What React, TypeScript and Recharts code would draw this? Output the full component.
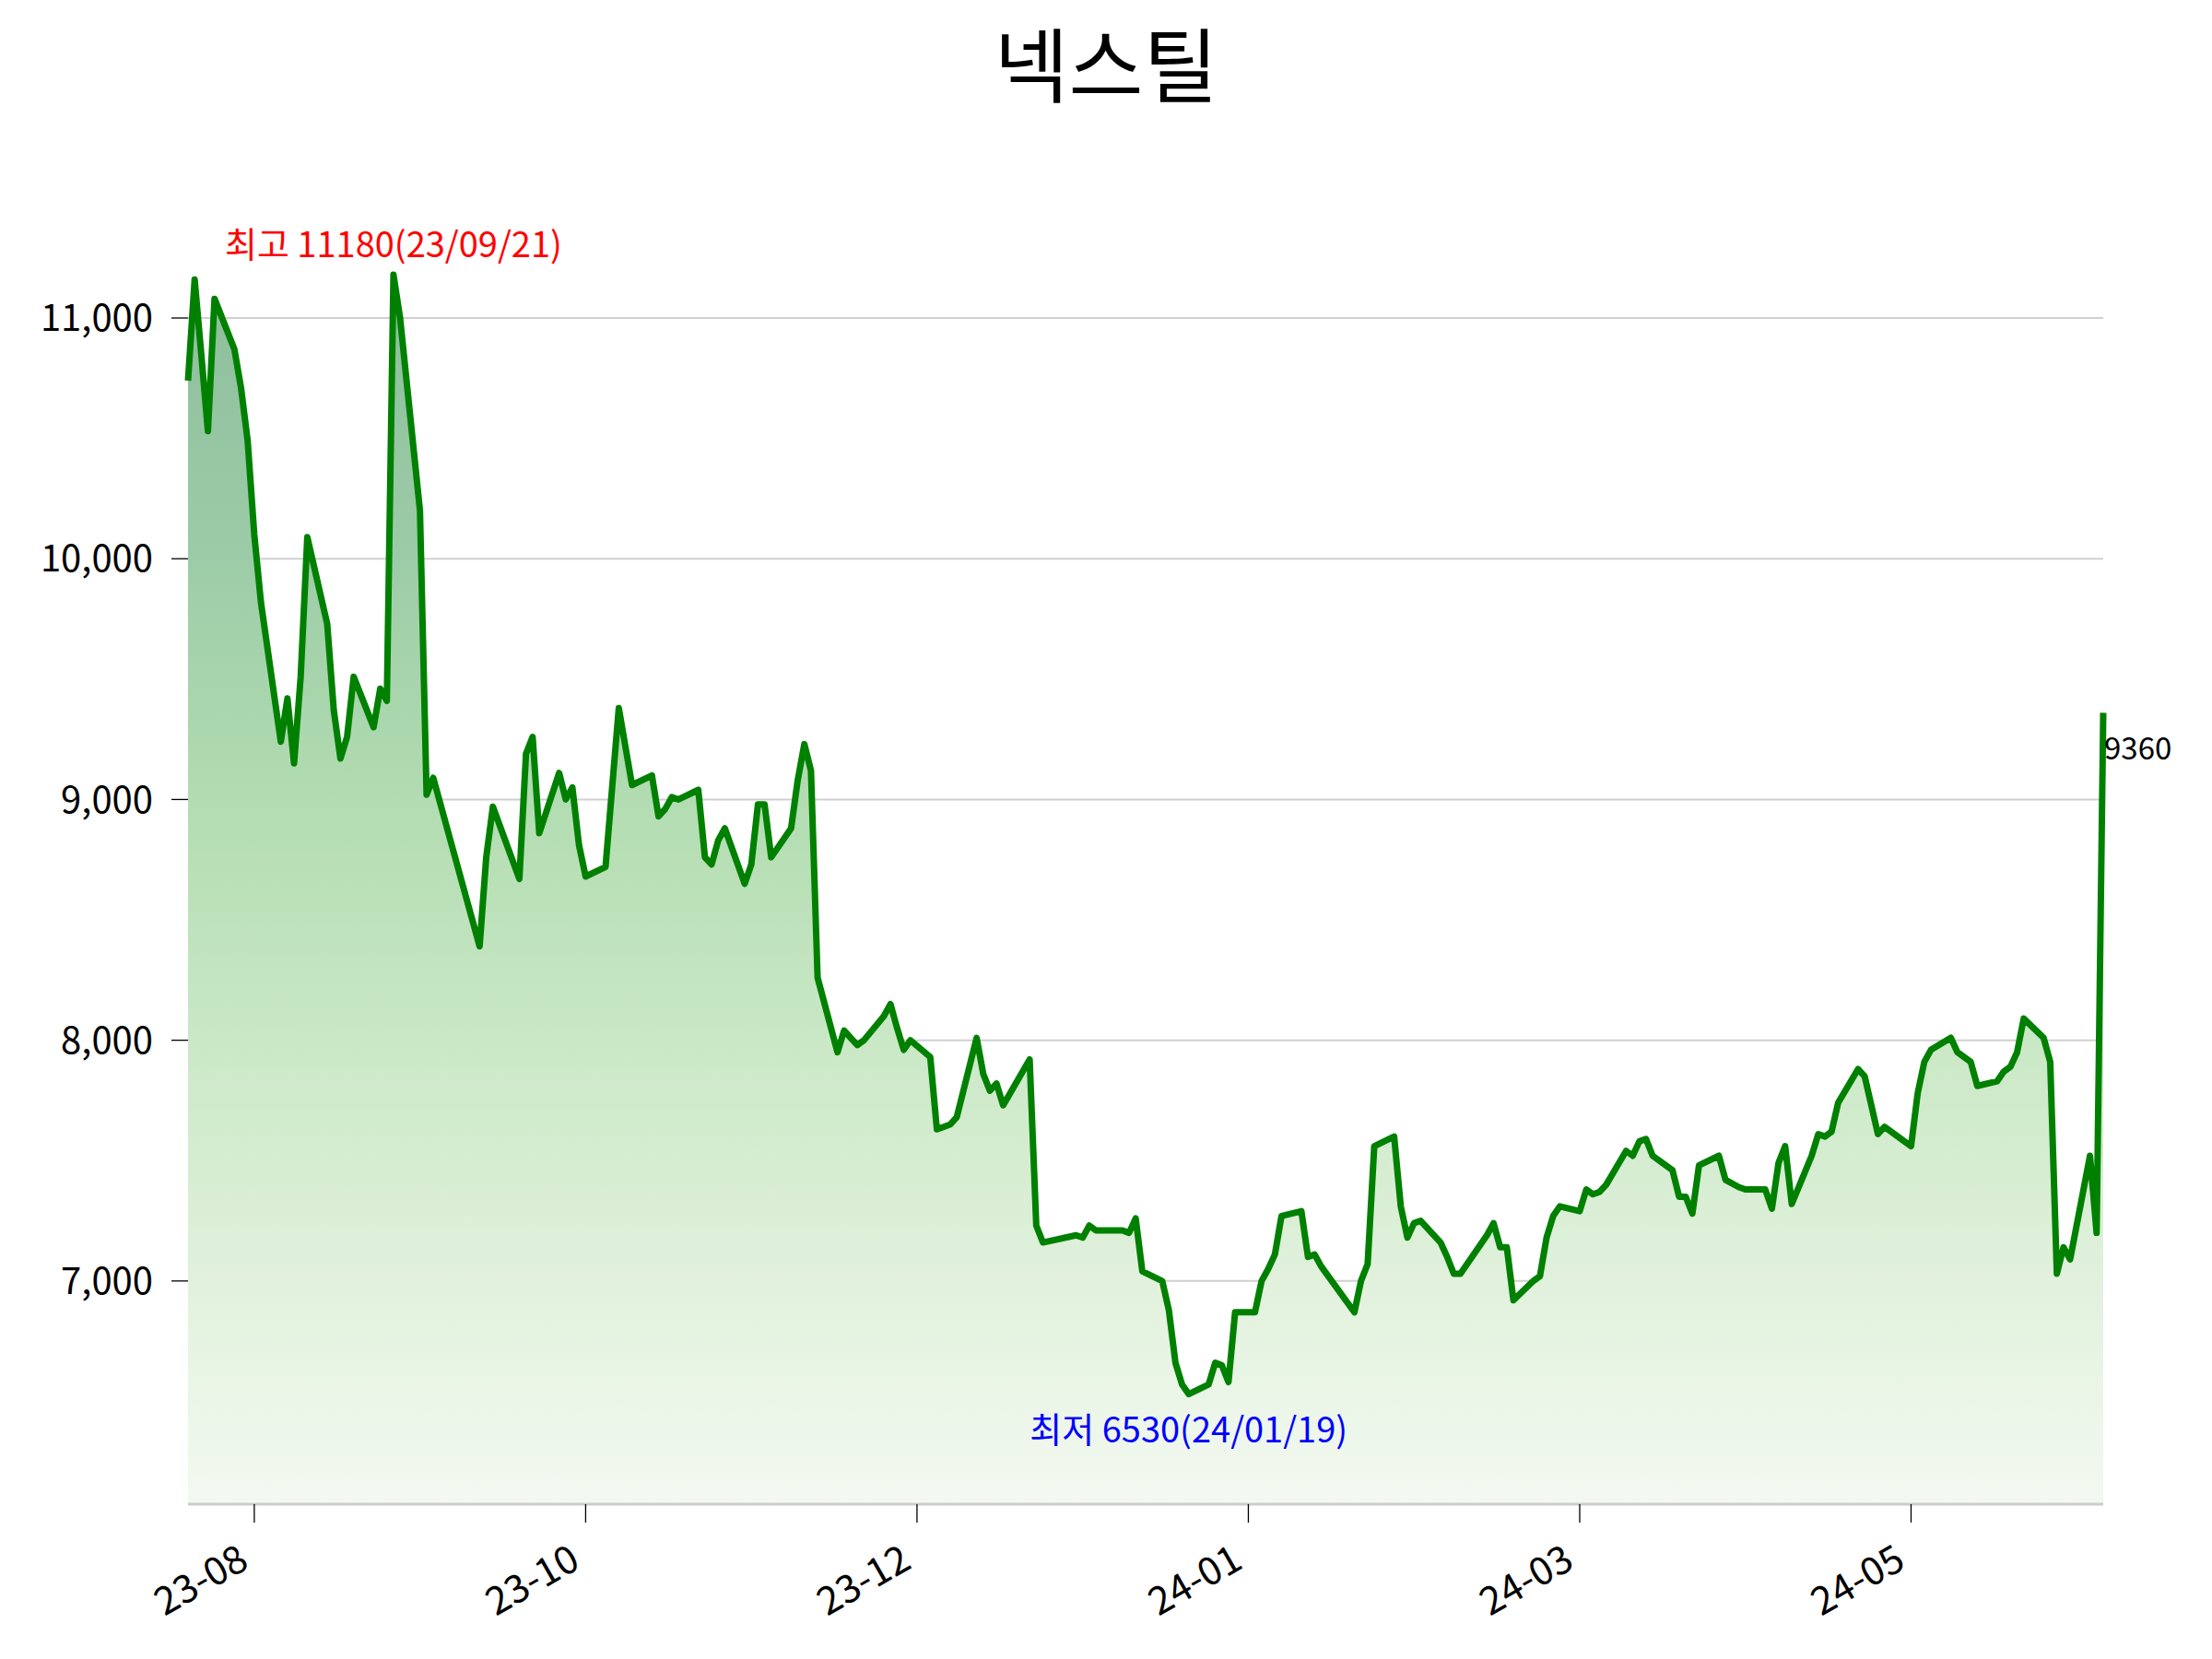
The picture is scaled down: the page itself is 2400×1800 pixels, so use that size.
import { ComposedChart, Area, Line, XAxis, YAxis, CartesianGrid, LabelList } from "recharts";

const FONT = "'Noto Sans CJK KR', 'Noto Sans', sans-serif";

const title = "넥스틸";

// trading days per month (KRX calendar), closes
const tradingDays: [string, number[]][] = [
  ["2023-08", [21, 22, 23, 24, 25, 28, 29, 30, 31]],
  ["2023-09", [1, 4, 5, 6, 7, 8, 11, 12, 13, 14, 15, 18, 19, 20, 21, 22, 25, 26, 27]],
  ["2023-10", [4, 5, 6, 10, 11, 12, 13, 16, 17, 18, 19, 20, 23, 24, 25, 26, 27, 30, 31]],
  ["2023-11", [1, 2, 3, 6, 7, 8, 9, 10, 13, 14, 15, 16, 17, 20, 21, 22, 23, 24, 27, 28, 29, 30]],
  ["2023-12", [1, 4, 5, 6, 7, 8, 11, 12, 13, 14, 15, 18, 19, 20, 21, 22, 26, 27, 28]],
  ["2024-01", [2, 3, 4, 5, 8, 9, 10, 11, 12, 15, 16, 17, 18, 19, 22, 23, 24, 25, 26, 29, 30, 31]],
  ["2024-02", [1, 2, 5, 6, 7, 8, 13, 14, 15, 16, 19, 20, 21, 22, 23, 26, 27, 28, 29]],
  ["2024-03", [4, 5, 6, 7, 8, 11, 12, 13, 14, 15, 18, 19, 20, 21, 22, 25, 26, 27, 28, 29]],
  ["2024-04", [1, 2, 3, 4, 5, 8, 9, 11, 12, 15, 16, 17, 18, 19, 22, 23, 24, 25, 26, 29, 30]],
  ["2024-05", [2, 3, 7, 8, 9, 10, 13, 14, 16, 17, 20, 21, 22, 23, 24, 27, 28, 29, 30, 31]],
  ["2024-06", [3, 4, 5]],
];

const closes: number[][] = [
  [10740, 11160, 10850, 10530, 11080, 10870, 10710, 10490, 10100],
  [9820, 9240, 9420, 9150, 9510, 10090, 9730, 9370, 9170, 9260, 9510, 9300, 9460, 9410, 11180, 11000, 10200, 9020, 9090],
  [8390, 8760, 8970, 8670, 9190, 9260, 8860, 9110, 9000, 9050, 8810, 8680, 8720, 9050, 9380, 9220, 9060, 9100, 8930],
  [8960, 9010, 9000, 9040, 8760, 8730, 8830, 8880, 8650, 8730, 8980, 8980, 8760, 8880, 9080, 9230, 9120, 8260, 7950, 8040, 8010, 7980],
  [8000, 8100, 8150, 8050, 7960, 8000, 7930, 7630, 7640, 7650, 7680, 8010, 7860, 7790, 7820, 7730, 7920, 7230, 7160],
  [7190, 7180, 7230, 7210, 7210, 7210, 7200, 7260, 7040, 7000, 6880, 6660, 6570, 6530, 6570, 6660, 6650, 6580, 6870, 6870, 7000, 7050],
  [7110, 7270, 7290, 7100, 7110, 7060, 6870, 7000, 7070, 7560, 7600, 7310, 7180, 7240, 7250, 7160, 7100, 7030, 7030],
  [7190, 7240, 7140, 7140, 6920, 7000, 7020, 7180, 7270, 7310, 7290, 7380, 7360, 7370, 7400, 7540, 7520, 7580, 7590, 7520],
  [7460, 7350, 7350, 7280, 7480, 7520, 7420, 7390, 7380, 7380, 7300, 7490, 7560, 7320, 7520, 7610, 7600, 7620, 7740, 7880, 7850],
  [7610, 7640, 7560, 7780, 7910, 7960, 8010, 7950, 7910, 7810, 7830, 7870, 7890, 7950, 8090, 8010, 7910, 7030, 7140, 7090],
  [7520, 7200, 9360],
];

// x axis runs over calendar days since the first trading day
const xTicks = [10, 60, 110, 160, 210, 260];
const xTickLabels = ["23-08", "23-10", "23-12", "24-01", "24-03", "24-05"];
const yTicks = [7000, 8000, 9000, 10000, 11000];

const DAY = 86400000;
const t0 = Date.UTC(2023, 7, 21);
const pad = (n: number) => String(n).padStart(2, "0");

const data = tradingDays.flatMap(([ym, days], m) => {
  const [yy, mm] = ym.split("-").map(Number);
  return days.map((d, k) => ({
    day: Math.round((Date.UTC(yy, mm - 1, d) - t0) / DAY),
    label: `${pad(yy % 100)}/${pad(mm)}/${pad(d)}`,
    close: closes[m][k],
  }));
});

const hiIdx = data.reduce((b, p, i) => (p.close > data[b].close ? i : b), 0);
const loIdx = data.reduce((b, p, i) => (p.close < data[b].close ? i : b), 0);
const lastIdx = data.length - 1;
const hi = data[hiIdx];
const lo = data[loIdx];

const XTick = (props: any) => {
  const { x, y, payload } = props;
  const i = xTicks.indexOf(payload.value);
  const px = x - 4;
  const py = y + 48;
  return (
    <text x={px} y={py} transform={`rotate(-30, ${px}, ${py})`} textAnchor="end" fontSize={42} fill="#000" fontFamily={FONT}>
      {xTickLabels[i]}
    </text>
  );
};

const renderMarks = (props: any) => {
  const { x, y, index } = props;
  if (index === hiIdx)
    return (
      <text x={x} y={y - 19} textAnchor="middle" fill="#ff0000" fontSize={38} fontFamily={FONT}>
        {`최고 ${hi.close}(${hi.label})`}
      </text>
    );
  if (index === loIdx)
    return (
      <text x={x} y={y + 52} textAnchor="middle" fill="#0000ff" fontSize={38} fontFamily={FONT}>
        {`최저 ${lo.close}(${lo.label})`}
      </text>
    );
  if (index === lastIdx)
    return (
      <text x={x + 1} y={y + 51} textAnchor="start" fill="#000" fontSize={33} fontFamily={FONT}>
        {data[lastIdx].close}
      </text>
    );
  return null;
};

export default function App() {
  return (
    <div style={{ position: "absolute", left: 0, top: 0, width: 2400, height: 1800, background: "#fff", fontFamily: FONT }}>
      <svg width={2400} height={150} style={{ position: "absolute", left: 0, top: 0 }}>
        <text x={1200} y={104} textAnchor="middle" fontSize={88} fill="#000" fontFamily={FONT}>
          {title}
        </text>
      </svg>
      <div style={{ position: "absolute", left: 0, top: 0 }}>
        <ComposedChart width={2400} height={1800} data={data} margin={{ top: 152, right: 118, bottom: 0, left: 0 }}>
          <defs>
            <linearGradient id="fillGrad" x1="0" y1="0" x2="0" y2="1">
              <stop offset="0" stopColor="#8cbe9b" />
              <stop offset="0.035" stopColor="#8fbf9d" />
              <stop offset="0.23" stopColor="#9ccca7" />
              <stop offset="0.427" stopColor="#b2dcb1" />
              <stop offset="0.62" stopColor="#c9e8c5" />
              <stop offset="0.817" stopColor="#e1f1dc" />
              <stop offset="1" stopColor="#f3f9f1" />
            </linearGradient>
          </defs>
          <XAxis
            type="number"
            dataKey="day"
            domain={["dataMin", "dataMax"]}
            ticks={xTicks}
            interval={0}
            height={168}
            tickSize={20}
            tickMargin={0}
            axisLine={{ stroke: "#cccccc", strokeWidth: 3 }}
            tickLine={{ stroke: "#000", strokeWidth: 1.3 }}
            tick={<XTick />}
          />
          <YAxis
            type="number"
            domain={[lo.close * 0.93, hi.close * 1.05]}
            ticks={yTicks}
            interval={0}
            width={204}
            tickSize={18}
            tickMargin={20}
            axisLine={false}
            tickLine={{ stroke: "#000", strokeWidth: 1.3 }}
            tick={{ fill: "#000", fontSize: 40, fontFamily: FONT }}
            tickFormatter={(v: number) => v.toLocaleString("en-US")}
          />
          <Area
            type="linear"
            dataKey="close"
            stroke="none"
            fill="url(#fillGrad)"
            fillOpacity={1}
            isAnimationActive={false}
          />
          <CartesianGrid vertical={false} horizontalValues={yTicks} stroke="#d0d0d0" strokeWidth={2} />
          <Line
            type="linear"
            dataKey="close"
            stroke="#008000"
            strokeWidth={7}
            strokeLinejoin="round"
            dot={false}
            isAnimationActive={false}
          >
            <LabelList dataKey="close" content={renderMarks} />
          </Line>
        </ComposedChart>
      </div>
    </div>
  );
}
